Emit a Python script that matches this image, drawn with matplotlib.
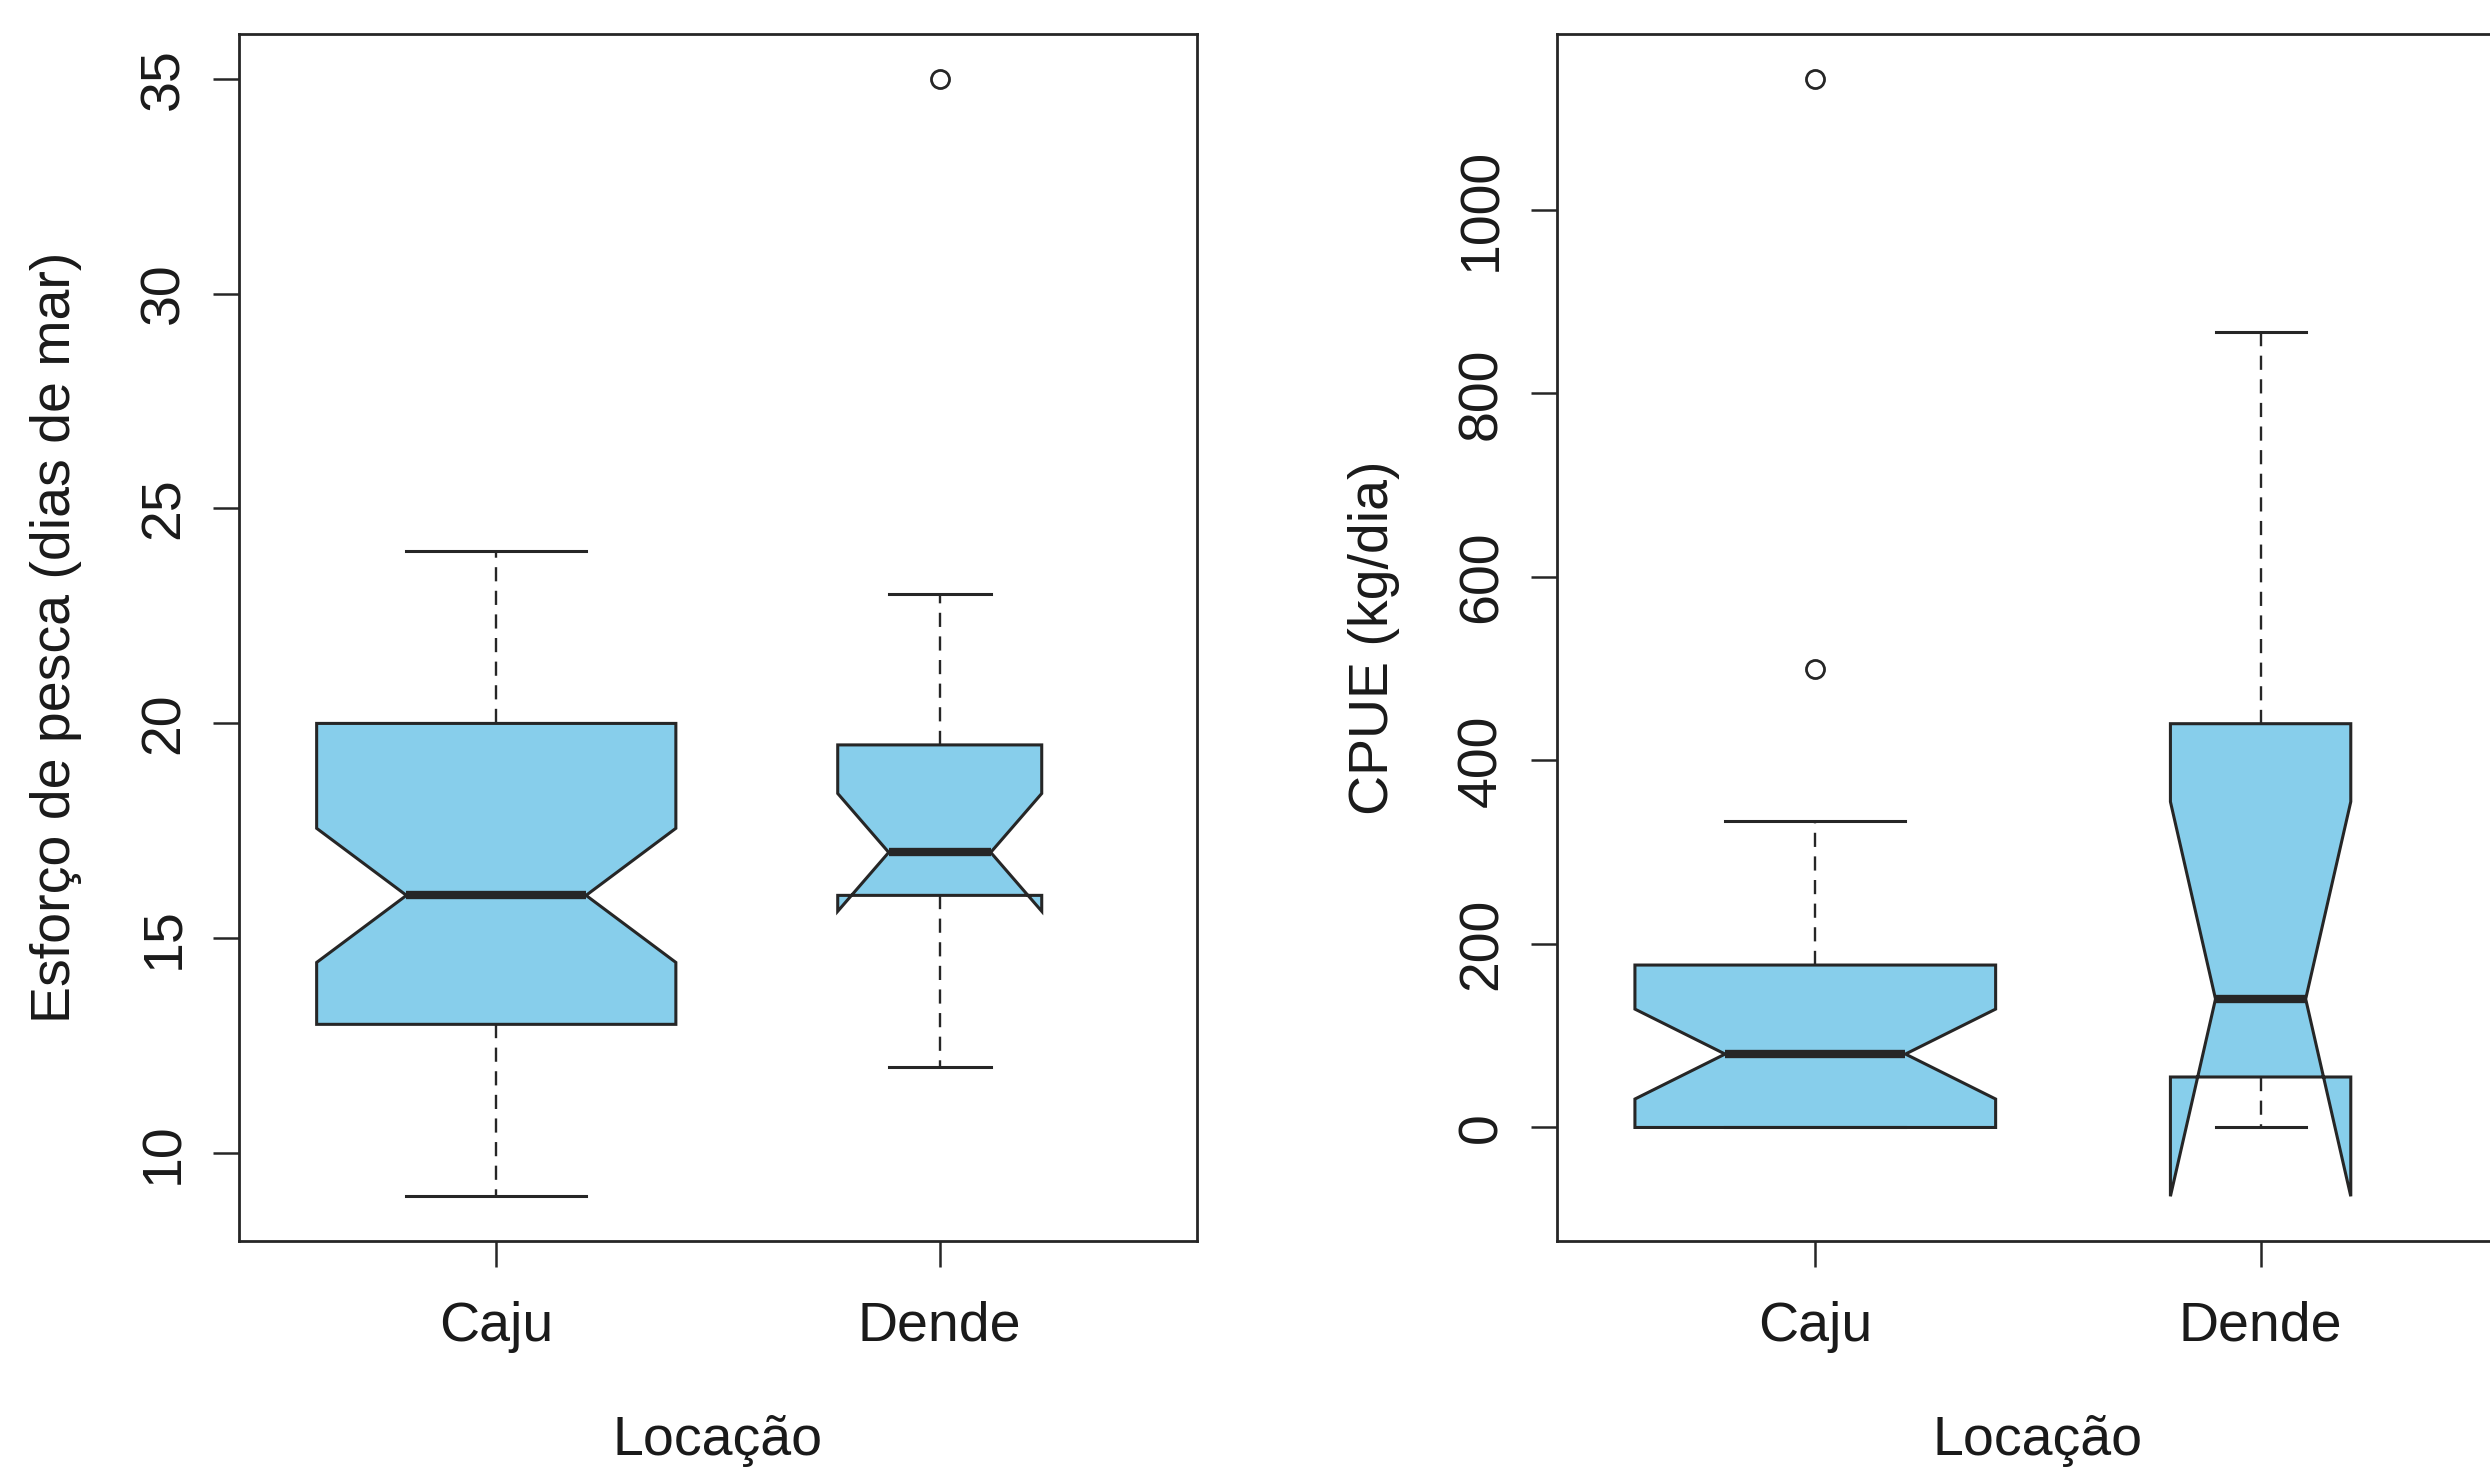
import numpy as np
import matplotlib.pyplot as plt

plt.rcParams['font.family'] = ['Liberation Sans', 'DejaVu Sans']

# categorias
locais = ['Caju', 'Dende']

# esforço de pesca (dias de mar)
esf_whislo = [9, 12]
esf_q1 = [13, 16]
esf_med = [16, 17]
esf_q3 = [20, 19.5]
esf_whishi = [24, 23]
esf_cilo = [14.44, 15.63]
esf_cihi = [17.56, 18.37]
esf_fliers = [[], [35]]

# CPUE (kg/dia)
cpue_whislo = [0, 0]
cpue_q1 = [0, 55]
cpue_med = [80, 140]
cpue_q3 = [177, 440]
cpue_whishi = [334, 867]
cpue_cilo = [31, -75]
cpue_cihi = [129, 355]
cpue_fliers = [[500, 1143], []]

esf_ticks = [10, 15, 20, 25, 30, 35]
cpue_ticks = [0, 200, 400, 600, 800, 1000]

COR = '#87CEEB'
LINHA = '#262626'
FS = 40


def monta_stats(whislo, q1, med, q3, whishi, cilo, cihi, fliers):
    stats = []
    for i in range(len(locais)):
        stats.append(dict(label=locais[i], whislo=whislo[i], q1=q1[i], med=med[i],
                          q3=q3[i], whishi=whishi[i], cilo=cilo[i], cihi=cihi[i],
                          fliers=np.array(fliers[i])))
    return stats


def desenha(ax, stats, larguras, ticks, ylabel):
    ax.bxp(stats, positions=[1, 2], widths=larguras, shownotches=True,
           patch_artist=True,
           boxprops=dict(facecolor=COR, edgecolor=LINHA, linewidth=2.2),
           medianprops=dict(color=LINHA, linewidth=6, solid_capstyle='butt'),
           whiskerprops=dict(color=LINHA, linewidth=1.7, linestyle=(0, (6, 4))),
           capprops=dict(color=LINHA, linewidth=2.2),
           flierprops=dict(marker='o', markerfacecolor='none', markeredgecolor=LINHA,
                           markersize=13, markeredgewidth=2))
    # limites como no R (faixa + 4%)
    vals = []
    for s in stats:
        vals += [s['whislo'], s['whishi'], s['cilo'], s['cihi']] + list(s['fliers'])
    lo, hi = min(vals), max(vals)
    d = (hi - lo) * 0.04
    ax.set_ylim(lo - d, hi + d)
    ax.set_xlim(0.42, 2.58)
    ax.set_yticks(ticks)
    ax.set_yticklabels([str(t) for t in ticks], rotation=90, va='center')
    ax.set_xticks([1, 2])
    ax.set_xticklabels(locais)
    ax.tick_params(axis='both', labelsize=FS, length=19, width=1.8, color=LINHA,
                   labelcolor='#1a1a1a', direction='out')
    ax.tick_params(axis='y', pad=16)
    ax.tick_params(axis='x', pad=24)
    for sp in ax.spines.values():
        sp.set_linewidth(2)
        sp.set_color(LINHA)
    ax.set_xlabel('Locação', fontsize=FS, va='baseline', color='#1a1a1a')
    ax.xaxis.set_label_coords(0.5, -0.177)
    ax.set_ylabel(ylabel, fontsize=FS, va='baseline', color='#1a1a1a')
    ax.yaxis.set_label_coords(-0.176, 0.5)


fig = plt.figure(figsize=(24.9, 14.73), dpi=100)
fig.patch.set_facecolor('white')

ax1 = fig.add_axes([0.096, 0.1575, 0.3847, 0.8195])
ax2 = fig.add_axes([0.6253, 0.1575, 0.3863, 0.8195])

desenha(ax1, monta_stats(esf_whislo, esf_q1, esf_med, esf_q3, esf_whishi,
                         esf_cilo, esf_cihi, esf_fliers),
        [0.81, 0.46], esf_ticks, 'Esforço de pesca (dias de mar)')
desenha(ax2, monta_stats(cpue_whislo, cpue_q1, cpue_med, cpue_q3, cpue_whishi,
                         cpue_cilo, cpue_cihi, cpue_fliers),
        [0.81, 0.405], cpue_ticks, 'CPUE (kg/dia)')

plt.savefig('out.png', dpi=100)
